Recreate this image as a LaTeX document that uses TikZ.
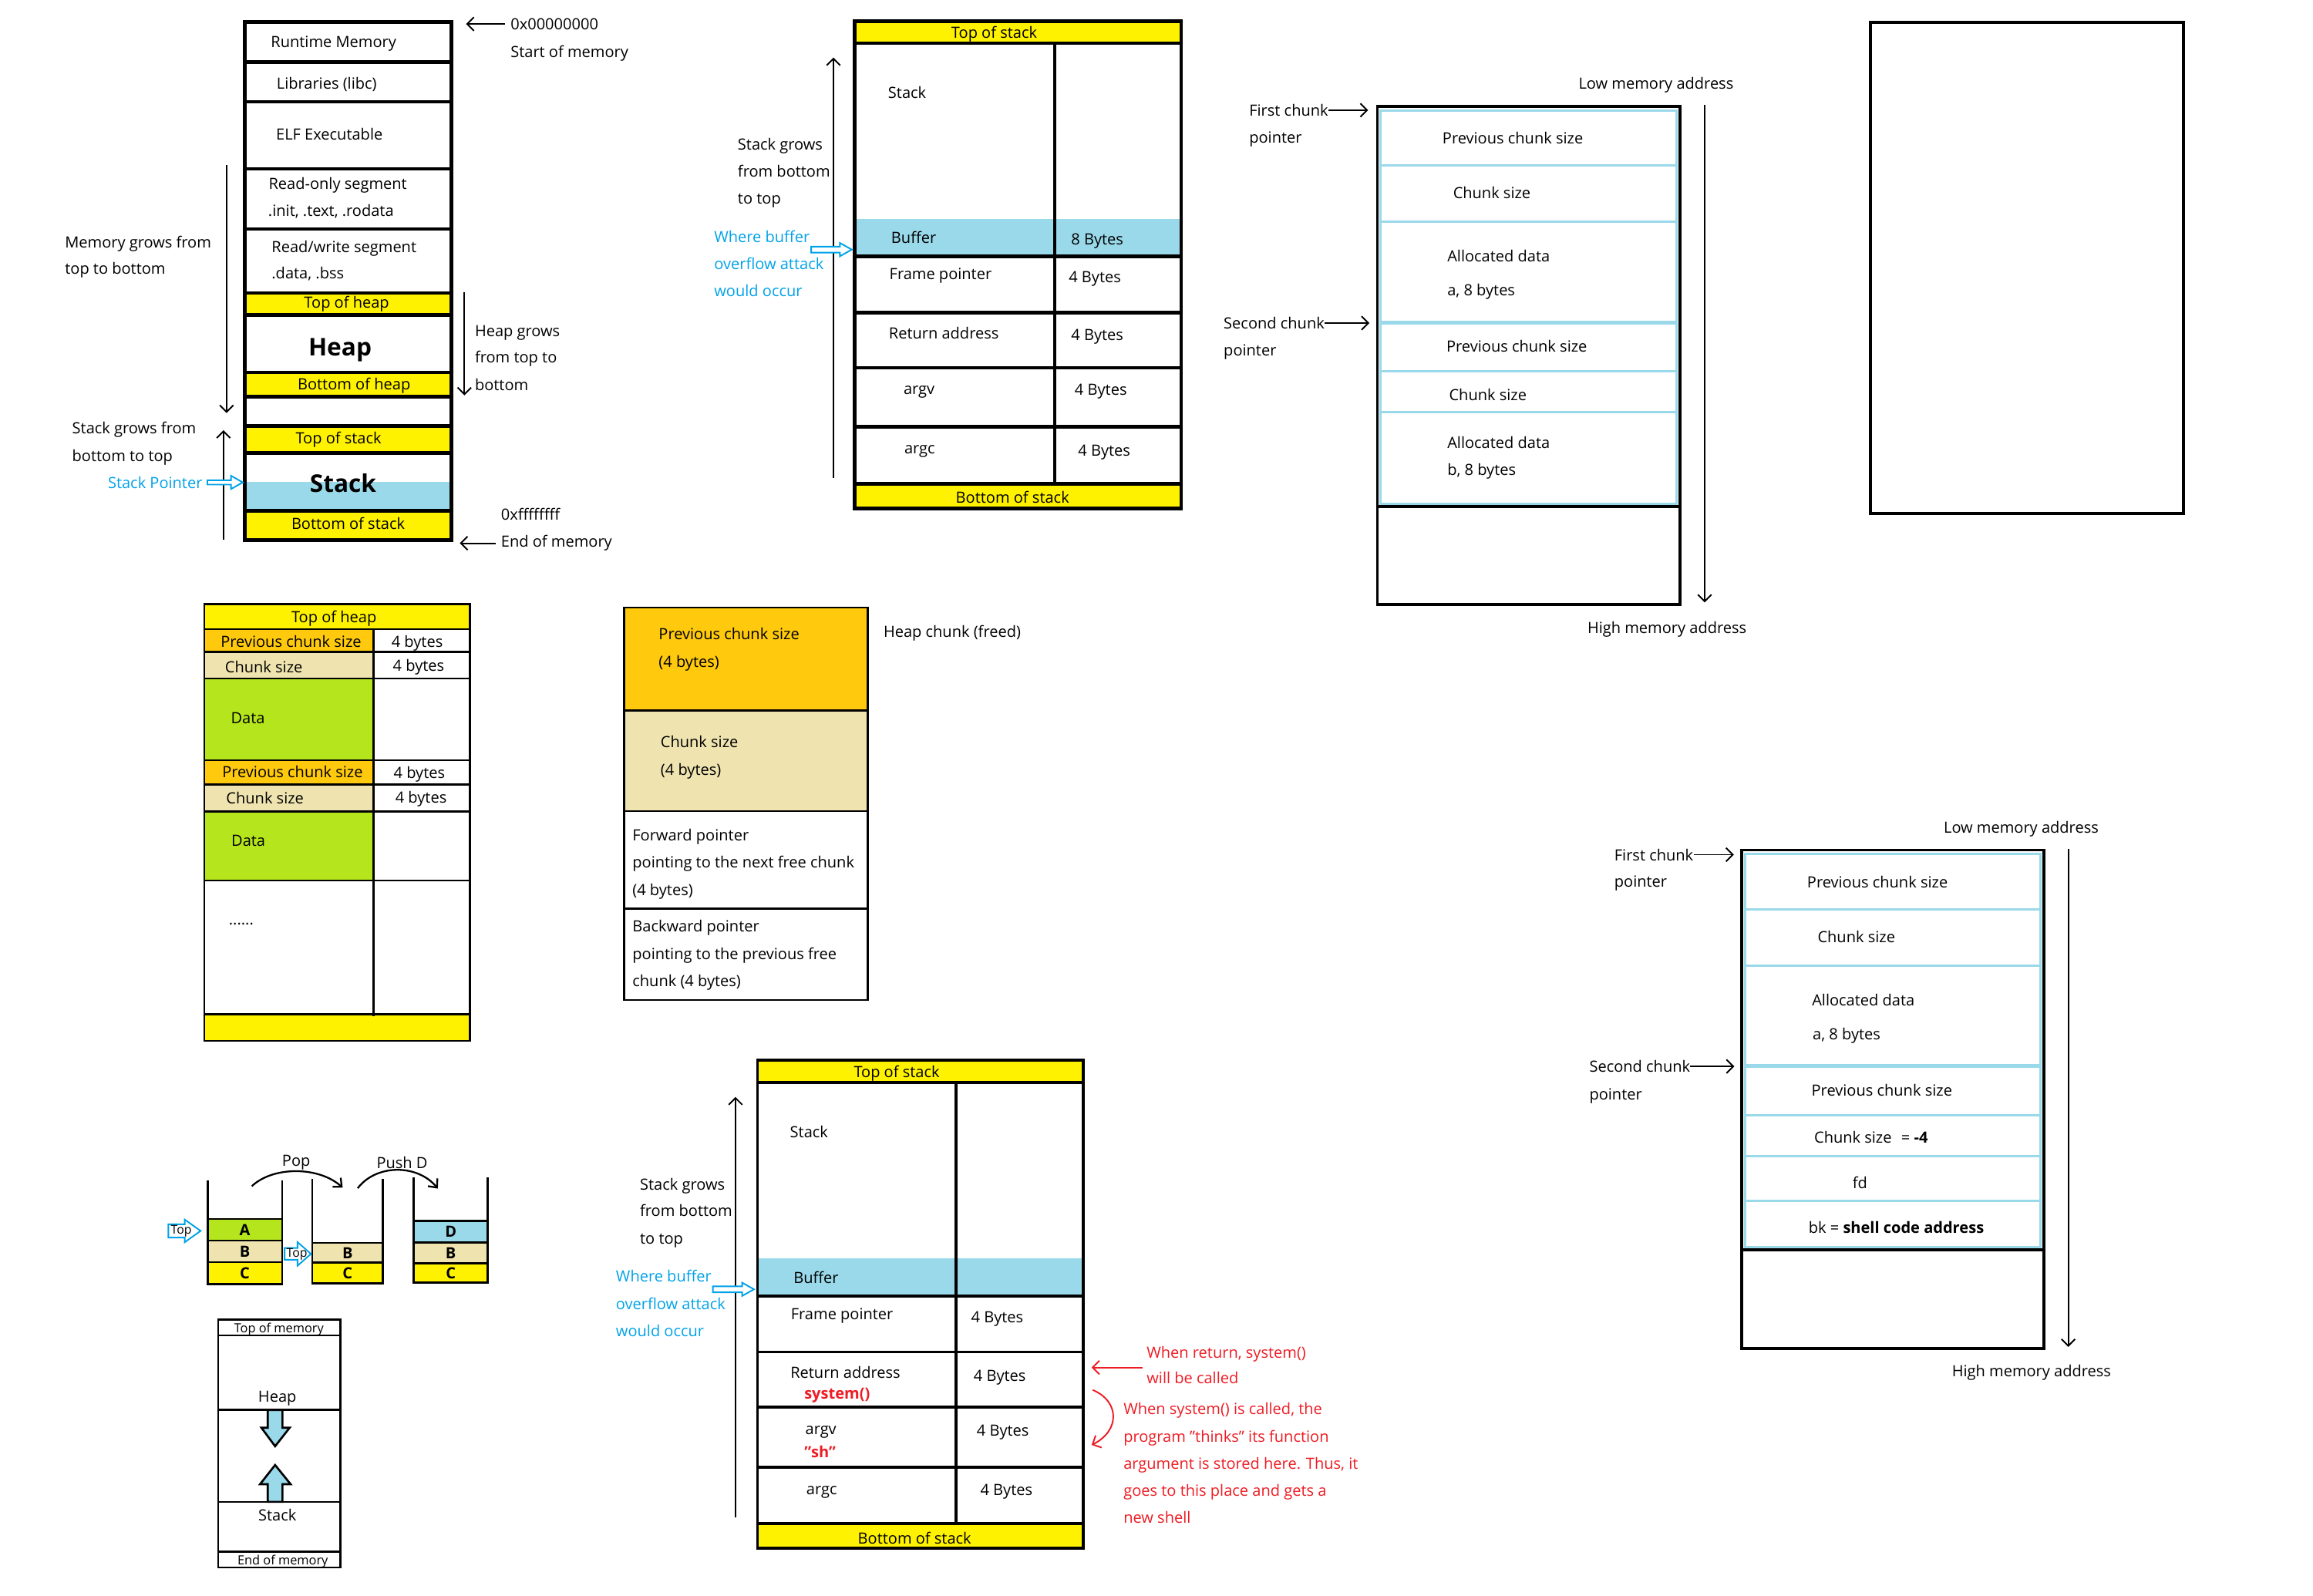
\documentclass[tikz,border=0pt]{standalone}
\usepackage{fontspec}
\setmainfont{Open Sans}
\usetikzlibrary{arrows.meta}
\definecolor{pyellow}{HTML}{FFF200}
\definecolor{cblue}{HTML}{99D9EA}
\definecolor{porange}{HTML}{FFC90E}
\definecolor{pbeige}{HTML}{EFE4B0}
\definecolor{pgreen}{HTML}{B5E61D}
\definecolor{pblue}{HTML}{00A2E8}
\definecolor{pred}{HTML}{ED1C24}
\begin{document}
\begin{tikzpicture}[
  x=0.03827cm, y=-0.03827cm,
  every node/.style={inner sep=0pt, font=\fontsize{11.4}{14}\selectfont},
  lbl/.style={anchor=base west},
  ctr/.style={anchor=base},
  bigtxt/.style={anchor=base, font=\fontsize{18}{20}\selectfont\bfseries},
  smalltxt/.style={anchor=base, font=\fontsize{9.3}{11}\selectfont},
  letter/.style={anchor=center, font=\fontsize{11.4}{13}\selectfont\bfseries},
  note/.style={anchor=base west, text=pblue},
  warn/.style={anchor=base west, text=pred},
  outer/.style={draw, line width=2.6pt},
  cellrule/.style={draw, line width=2.2pt},
  thinrule/.style={draw, line width=1.5pt},
  chunkrule/.style={draw=cblue, line width=1.7pt},
  growarrow/.style={draw, line width=1.1pt, -{Straight Barb[length=5pt, width=10pt]}},
  swing/.style={draw, line width=1.3pt, -{Straight Barb[length=5pt, width=9pt]}},
  redarrow/.style={draw=pred, line width=1.1pt, -{Straight Barb[length=5pt, width=10pt]}},
  hollow/.style={draw=pblue, line width=1.1pt, fill=white},
  fat/.style={draw, line width=1.5pt, fill=cblue}]

  \useasboundingbox (0,0) rectangle (1568,1081.4);

  % ---------------- process memory layout ----------------
  \fill[pyellow] (165.8,198.7) rectangle (306,213.6);
  \fill[pyellow] (165.8,252.5) rectangle (306,268.8);
  \fill[pyellow] (165.8,288.7) rectangle (306,307.2);
  \fill[cblue]   (165.8,326.4) rectangle (306,346.3);
  \fill[pyellow] (165.8,346.3) rectangle (306,366);
  \foreach \y in {42,68.9,114.5,155.3,198.7,213.6,252.5,268.8,288.7,307.2,346.3}
    \draw[outer] (165.8,\y) -- (306,\y);
  \draw[outer] (165.8,14.9) rectangle (306,366);

  \node[lbl] (rtm)  at (183.5,32)   {Runtime Memory};
  \node[lbl] (libc) at (187.4,60.4) {Libraries (libc)};
  \node[lbl] (elf)  at (187,94.7)   {ELF Executable};
  \node[lbl] (ro1)  at (182,128.3)  {Read-only segment};
  \node[lbl] (ro2)  at (181.7,146.6){.init, .text, .rodata};
  \node[lbl] (rw1)  at (184,171)    {Read/write segment};
  \node[lbl] (rw2)  at (184,189)    {.data, .bss};
  \node[ctr] (toph) at (235,209)    {Top of heap};
  \node[bigtxt] (heapbig) at (230.5,241) {Heap};
  \node[ctr] (both) at (240,264)    {Bottom of heap};
  \node[ctr] (tops) at (229.5,301)  {Top of stack};
  \node[bigtxt] (stackbig) at (232.6,333.5) {Stack};
  \node[ctr] (bots) at (236,359)    {Bottom of stack};

  \node[lbl] (memg1) at (43.9,168) {Memory grows from};
  \node[lbl] (memg2) at (43.9,186) {top to bottom};
  \node[lbl] (stkg1) at (48.8,294) {Stack grows from};
  \node[lbl] (stkg2) at (48.8,313) {bottom to top};
  \node[note] (sptr) at (73,331)   {Stack Pointer};
  \node[lbl] (zero)   at (346,20)   {0x00000000};
  \node[lbl] (startm) at (346,39)   {Start of memory};
  \node[lbl] (hg1) at (321.8,228)   {Heap grows};
  \node[lbl] (hg2) at (321.8,246)   {from top to};
  \node[lbl] (hg3) at (321.8,264.6) {bottom};
  \node[lbl] (ffff) at (339.5,352.7) {0xffffffff};
  \node[lbl] (endm) at (339.5,371)   {End of memory};

  \coordinate (memtop)   at (153.6,112);
  \coordinate (membot)   at (153.6,280);
  \coordinate (stkbot)   at (151.5,366);
  \coordinate (stktop)   at (151.5,291.6);
  \coordinate (heaptop)  at (314.8,198);
  \coordinate (heapbot)  at (314.8,268);
  \coordinate (memstart) at (316,15.8);
  \coordinate (memend)   at (311.7,366);
  \draw[growarrow] (memtop) -- (membot);
  \draw[growarrow] (stkbot) -- (stktop);
  \draw[growarrow] (heaptop) -- (heapbot);
  \draw[growarrow, shorten <=4pt] (zero.west) -- (zero.west -| memstart);
  \draw[growarrow, shorten <=4pt] (endm.west) -- (endm.west -| memend);
  \draw[hollow, shift={(140.6,327)}] (0,-1.5) -- (16,-1.5) -- (16,-4.5) -- (24,0)
    -- (16,4.5) -- (16,1.5) -- (0,1.5) -- cycle;

  % ---------------- stack frame ----------------
  \fill[pyellow] (579.3,14.5) rectangle (800.7,29.2);
  \fill[cblue]   (579.3,148.4) rectangle (800.7,173.9);
  \fill[pyellow] (579.3,328) rectangle (800.7,344.7);
  \foreach \y in {29.2,173.9,212,249.3,289.4,328}
    \draw[outer] (579.3,\y) -- (800.7,\y);
  \draw[outer] (714.9,29.2) -- (714.9,328);
  \draw[outer] (579.3,14.5) rectangle (800.7,344.7);

  \node[ctr] (stop)   at (674,26)      {Top of stack};
  \node[lbl] (sstack) at (601.9,66.5)  {Stack};
  \node[lbl] (sbuf)   at (604,165)     {Buffer};
  \node[lbl] (sbufb)  at (726,166)     {8 Bytes};
  \node[lbl] (sfp)    at (602.8,189.5) {Frame pointer};
  \node[lbl] (sfpb)   at (724.4,191.6) {4 Bytes};
  \node[lbl] (sret)   at (602.4,229.7) {Return address};
  \node[lbl] (sretb)  at (726,231)     {4 Bytes};
  \node[lbl] (sargv)  at (612.4,267.3) {argv};
  \node[lbl] (sargvb) at (728.4,268)   {4 Bytes};
  \node[lbl] (sargc)  at (612.9,307.5) {argc};
  \node[lbl] (sargcb) at (730.7,309)   {4 Bytes};
  \node[ctr] (sbot)   at (686.4,341)   {Bottom of stack};

  \node[lbl] (sg1) at (500,101.6) {Stack grows};
  \node[lbl] (sg2) at (500,119.8) {from bottom};
  \node[lbl] (sg3) at (500,138.4) {to top};
  \node[note] (bo1) at (484,164.3) {Where buffer};
  \node[note] (bo2) at (484,182.8) {overflow attack};
  \node[note] (bo3) at (484,201)   {would occur};

  \coordinate (sgbot) at (565,324);
  \coordinate (sgtop) at (565,39);
  \draw[growarrow] (sgbot) -- (sgtop);
  \draw[hollow, shift={(549.9,169.2)}] (0,-2) -- (19.5,-2) -- (19.5,-4.5) -- (27.5,0)
    -- (19.5,4.5) -- (19.5,2) -- (0,2) -- cycle;

  % ---------------- heap chunks ----------------
  \draw[chunkrule] (936,74.8) rectangle (1136.5,341.5);
  \foreach \y in {112,150.5,251.9,279.2}
    \draw[chunkrule] (936,\y) -- (1136.5,\y);
  \draw[chunkrule, line width=2.8pt] (936,218.6) -- (1136.5,218.6);
  \draw[cellrule] (933.7,343.4) -- (1138.8,343.4);
  \draw[cellrule] (933.7,72.2) rectangle (1138.8,409.7);

  \node[lbl] (hpcs1) at (977.7,97.3)  {Previous chunk size};
  \node[lbl] (hcs1)  at (984.9,134.5) {Chunk size};
  \node[lbl] (had1)  at (981,177.4)   {Allocated data};
  \node[lbl] (hab1)  at (981,200.2)   {a, 8 bytes};
  \node[lbl] (hpcs2) at (980.4,238.5) {Previous chunk size};
  \node[lbl] (hcs2)  at (982.2,271.5) {Chunk size};
  \node[lbl] (had2)  at (981,303.7)   {Allocated data};
  \node[lbl] (hab2)  at (981,322.2)   {b, 8 bytes};
  \node[lbl] (hlow)  at (1070,60.4)   {Low memory address};
  \node[lbl] (hhigh) at (1076,429.6)  {High memory address};
  \node[lbl] (hfc1)  at (846.7,78.6)  {First chunk};
  \node[lbl] (hfc2)  at (846.7,97)    {pointer};
  \node[lbl] (hsc1)  at (829.4,222.9) {Second chunk};
  \node[lbl] (hsc2)  at (829.4,241.3) {pointer};

  \coordinate (hlowpt)  at (1155.6,71.2);
  \coordinate (hhighpt) at (1155.6,408.4);
  \coordinate (hfirst)  at (927.5,74.6);
  \coordinate (hsecond) at (928.3,218.9);
  \draw[growarrow] (hlowpt) -- (hhighpt);
  \draw[growarrow] (hfc1.east) -- (hfc1.east -| hfirst);
  \draw[growarrow] (hsc1.east) -- (hsc1.east -| hsecond);

  % empty box
  \draw[cellrule] (1268,15) rectangle (1480,348);

  % ---------------- heap table ----------------
  \fill[pyellow] (138.5,409.5) rectangle (318.5,426.5);
  \fill[porange] (138.5,426.5) rectangle (253.1,442);
  \fill[pbeige]  (138.5,442) rectangle (253.1,460);
  \fill[pgreen]  (138.5,460) rectangle (253.1,515.3);
  \fill[porange] (138.5,515.3) rectangle (253.1,531.8);
  \fill[pbeige]  (138.5,531.8) rectangle (253.1,550.2);
  \fill[pgreen]  (138.5,550.2) rectangle (253.1,596.9);
  \fill[pyellow] (138.5,687.5) rectangle (318.5,705.5);
  \foreach \y in {426.5,442,460,515.3,531.8,550.2,596.9,687.5}
    \draw[thinrule] (138.5,\y) -- (318.5,\y);
  \draw[thinrule] (253.1,426.5) -- (253.1,689);
  \draw[thinrule] (138.5,409.5) rectangle (318.5,705.5);

  \node[ctr] (ttop)  at (226.4,422)   {Top of heap};
  \node[ctr] (tpcs1) at (197.3,438.6) {Previous chunk size};
  \node[ctr] (tpb1)  at (282.8,438.6) {4 bytes};
  \node[lbl] (tcs1)  at (152.4,456.2) {Chunk size};
  \node[ctr] (tcb1)  at (283.8,455.2) {4 bytes};
  \node[lbl] (td1)   at (156.4,490.7) {Data};
  \node[ctr] (tpcs2) at (198.3,527.1) {Previous chunk size};
  \node[ctr] (tpb2)  at (284.3,527.7) {4 bytes};
  \node[lbl] (tcs2)  at (153.2,544.8) {Chunk size};
  \node[ctr] (tcb2)  at (285.4,544.4) {4 bytes};
  \node[lbl] (td2)   at (156.7,573.8) {Data};
  \node[lbl] (tmore) at (155,627)     {......};

  % ---------------- freed chunk ----------------
  \fill[porange] (423.2,411.9) rectangle (588.2,481.7);
  \fill[pbeige]  (423.2,481.7) rectangle (588.2,549.8);
  \foreach \y in {481.7,549.8,616}
    \draw[thinrule] (423.2,\y) -- (588.2,\y);
  \draw[thinrule] (423.2,411.9) rectangle (588.2,677.9);

  \node[lbl] (fpcs)  at (446.4,433.7) {Previous chunk size};
  \node[lbl] (fpcsb) at (446.4,452.5) {(4 bytes)};
  \node[lbl] (fcs)   at (447.7,506.9) {Chunk size};
  \node[lbl] (fcsb)  at (447.7,525.6) {(4 bytes)};
  \node[lbl] (ffw1)  at (428.6,569.7) {Forward pointer};
  \node[lbl] (ffw2)  at (428.6,588.1) {pointing to the next free chunk};
  \node[lbl] (ffw3)  at (428.6,606.9) {(4 bytes)};
  \node[lbl] (fbk1)  at (428.6,631.6) {Backward pointer};
  \node[lbl] (fbk2)  at (428.6,650.4) {pointing to the previous free};
  \node[lbl] (fbk3)  at (428.6,668.8) {chunk (4 bytes)};
  \node[lbl] (ftitle) at (598.8,432.2) {Heap chunk (freed)};

  % ---------------- pop / push ----------------
  \fill[pgreen]  (140.9,826.3) rectangle (191.2,841);
  \fill[pbeige]  (140.9,841) rectangle (191.2,855.6);
  \fill[pyellow] (140.9,855.6) rectangle (191.2,870.4);
  \fill[pbeige]  (211.7,842.6) rectangle (259.6,856);
  \fill[pyellow] (211.7,856) rectangle (259.6,870);
  \fill[cblue]   (280.5,827.5) rectangle (330.7,842.2);
  \fill[pbeige]  (280.5,842.2) rectangle (330.7,856.4);
  \fill[pyellow] (280.5,856.4) rectangle (330.7,869.4);
  \foreach \y in {826.3,841,855.6}
    \draw[thinrule] (140.9,\y) -- (191.2,\y);
  \foreach \y in {842.6,856}
    \draw[thinrule] (211.7,\y) -- (259.6,\y);
  \foreach \y in {827.5,842.2,856.4}
    \draw[thinrule] (280.5,\y) -- (330.7,\y);
  \draw[thinrule] (140.9,800.1) -- (140.9,870.4) -- (191.2,870.4) -- (191.2,800.1);
  \draw[thinrule] (211.7,799.1) -- (211.7,870) -- (259.6,870) -- (259.6,799.1);
  \draw[thinrule] (280.5,798.1) -- (280.5,869.4) -- (330.7,869.4) -- (330.7,798.1);

  \node[letter] (pa)  at (166,833.7)   {A};
  \node[letter] (pb)  at (166,848.3)   {B};
  \node[letter] (pc)  at (166,863)     {C};
  \node[letter] (pb2) at (235.6,849.3) {B};
  \node[letter] (pc2) at (235.6,863)   {C};
  \node[letter] (pd3) at (305.6,834.9) {D};
  \node[letter] (pb3) at (305.6,849.3) {B};
  \node[letter] (pc3) at (305.6,862.9) {C};

  \draw[hollow, shift={(114.1,834.4)}] (0,-4.5) -- (11.1,-4.5) -- (11.1,-7.7) -- (21.9,0)
    -- (11.1,7.7) -- (11.1,4.5) -- (0,4.5) -- cycle;
  \draw[hollow, shift={(192.9,850)}] (0,-4) -- (8.8,-4) -- (8.8,-8) -- (17.9,0)
    -- (8.8,8) -- (8.8,4) -- (0,4) -- cycle;
  \node[anchor=center, font=\fontsize{9}{10}\selectfont] (ptop1) at (122.9,834.4) {Top};
  \node[anchor=center, font=\fontsize{9}{10}\selectfont] (ptop2) at (201.3,850.4) {Top};

  \node[ctr] (ppop)  at (200.8,790.5) {Pop};
  \node[ctr] (ppush) at (272.6,792)   {Push D};
  \coordinate (popa)  at (170.7,804.1);
  \coordinate (popb)  at (232.3,805.1);
  \coordinate (pusha) at (242.5,805.5);
  \coordinate (pushb) at (296.8,805.7);
  \draw[swing] (popa) .. controls (185,790.5) and (216,790.5) .. (popb);
  \draw[swing] (pusha) .. controls (255,789) and (283,789) .. (pushb);

  % heap vs stack
  \foreach \y in {905.3,955.8,1018.1,1052}
    \draw[thinrule] (147.9,\y) -- (230.9,\y);
  \draw[thinrule] (147.9,894.5) rectangle (230.9,1062.6);
  \node[smalltxt] (mtop) at (189.1,903.5) {Top of memory};
  \node[ctr] (mheap)  at (188,950.4) {Heap};
  \node[ctr] (mstack) at (188,1031)  {Stack};
  \node[smalltxt] (mend) at (191.7,1060.5) {End of memory};
  \draw[fat] (181.5,955.8) -- (191.5,955.8) -- (191.5,967.8) -- (196.4,967.8)
    -- (186.5,980.4) -- (177.2,967.8) -- (181.5,967.8) -- cycle;
  \draw[fat] (181.5,1018.1) -- (191.5,1018.1) -- (191.5,1006.1) -- (197,1006.1)
    -- (186.5,993.1) -- (176.3,1006.1) -- (181.5,1006.1) -- cycle;

  % ---------------- return to libc ----------------
  \fill[pyellow] (513.5,718.6) rectangle (734.5,733.8);
  \fill[cblue]   (513.5,853) rectangle (734.5,878.4);
  \fill[pyellow] (513.5,1032.8) rectangle (734.5,1049.6);
  \foreach \y in {733.8,878.4,916.5,953.8,994.7,1032.8}
    \draw[cellrule] (513.5,\y) -- (734.5,\y);
  \draw[cellrule] (648.1,733.8) -- (648.1,1032.8);
  \draw[cellrule] (513.5,718.6) rectangle (734.5,1049.6);

  \node[ctr] (rtop)   at (607.9,730.6)  {Top of stack};
  \node[lbl] (rstack) at (535.4,771.4)  {Stack};
  \node[lbl] (rbuf)   at (537.8,870.2)  {Buffer};
  \node[lbl] (rfp)    at (536,894.3)    {Frame pointer};
  \node[lbl] (rfpb)   at (658.2,896.4)  {4 Bytes};
  \node[lbl] (rret)   at (535.7,934.5)  {Return address};
  \node[warn, font=\fontsize{11.4}{14}\selectfont\bfseries] (rsys) at (545.1,948.5) {system()};
  \node[lbl] (rretb)  at (659.9,936.4)  {4 Bytes};
  \node[lbl] (rargv)  at (545.8,972.3)  {argv};
  \node[warn, font=\fontsize{11.4}{14}\selectfont\bfseries] (rsh) at (545.1,988.2) {"sh"};
  \node[lbl] (rargvb) at (662,973.5)    {4 Bytes};
  \node[lbl] (rargc)  at (546.5,1013.2) {argc};
  \node[lbl] (rargcb) at (664.4,1013.9) {4 Bytes};
  \node[ctr] (rbot)   at (620,1046.6)   {Bottom of stack};

  \node[lbl] (rg1) at (433.7,806.5) {Stack grows};
  \node[lbl] (rg2) at (433.7,824.7) {from bottom};
  \node[lbl] (rg3) at (433.7,843.2) {to top};
  \node[note] (ro1) at (417.4,869)   {Where buffer};
  \node[note] (ro2) at (417.4,887.8) {overflow attack};
  \node[note] (ro3) at (417.4,906)   {would occur};

  \node[warn] (rw1) at (777.2,920.5) {When return, system()};
  \node[warn] (rw2) at (777.2,938)   {will be called};
  \node[warn] (rc1) at (761.5,959)    {When system() is called, the};
  \node[warn] (rc2) at (761.5,977.7)  {program "thinks" its function};
  \node[warn] (rc3) at (761.5,995.9)  {argument is stored here. Thus, it};
  \node[warn] (rc4) at (761.5,1014.4) {goes to this place and gets a};
  \node[warn] (rc5) at (761.5,1032.6) {new shell};

  \coordinate (rgbot)  at (498.6,1028.6);
  \coordinate (rgtop)  at (498.6,743.6);
  \coordinate (rretpt) at (740,927);
  \coordinate (rcurva) at (740.7,942.2);
  \coordinate (rcurvb) at (740,979.5);
  \draw[growarrow] (rgbot) -- (rgtop);
  \draw[redarrow, shorten <=3pt] (rw1.west |- rretpt) -- (rretpt);
  \draw[redarrow] (rcurva) .. controls (759.3,950) and (759.3,970) .. (rcurvb);
  \draw[hollow, shift={(483.3,874)}] (0,-2) -- (19.8,-2) -- (19.8,-4.5) -- (27.8,0)
    -- (19.8,4.5) -- (19.8,2) -- (0,2) -- cycle;

  % ---------------- unlink exploit ----------------
  \draw[chunkrule] (1183,578.8) rectangle (1383.4,845.3);
  \foreach \y in {616.4,654.8,756.1,783.8,814.2}
    \draw[chunkrule] (1183,\y) -- (1383.4,\y);
  \draw[chunkrule, line width=2.8pt] (1183,722.8) -- (1383.4,722.8);
  \draw[cellrule] (1180.7,847.4) -- (1385.7,847.4);
  \draw[cellrule] (1180.7,576.2) rectangle (1385.7,914.1);

  \node[lbl] (bpcs1) at (1224.9,601.7) {Previous chunk size};
  \node[lbl] (bcs1)  at (1232,638.8)   {Chunk size};
  \node[lbl] (bad1)  at (1228.2,681.7) {Allocated data};
  \node[lbl] (bab1)  at (1228.7,704.8) {a, 8 bytes};
  \node[lbl] (bpcs2) at (1227.9,742.9) {Previous chunk size};
  \node[lbl] (bcs2)  at (1229.7,774.9) {Chunk size\hspace{7pt}= \textbf{-4}};
  \node[lbl] (bfd)   at (1255.7,805.5) {fd};
  \node[lbl] (bbk)   at (1225.9,835.9) {bk = \textbf{shell code address}};
  \node[lbl] (blow)  at (1317.5,564.6) {Low memory address};
  \node[lbl] (bhigh) at (1323.1,933.2) {High memory address};
  \node[lbl] (bfc1)  at (1094.2,583.3) {First chunk};
  \node[lbl] (bfc2)  at (1094.2,601.4) {pointer};
  \node[lbl] (bsc1)  at (1077.3,726.8) {Second chunk};
  \node[lbl] (bsc2)  at (1077.3,745.5) {pointer};

  \coordinate (blowpt)  at (1402.1,575.6);
  \coordinate (bhighpt) at (1402.1,913.1);
  \coordinate (bfirst)  at (1175.4,579.3);
  \coordinate (bsecond) at (1175.7,722.8);
  \draw[growarrow] (blowpt) -- (bhighpt);
  \draw[growarrow] (bfc1.east) -- (bfc1.east -| bfirst);
  \draw[growarrow] (bsc1.east) -- (bsc1.east -| bsecond);
\end{tikzpicture}
\end{document}
